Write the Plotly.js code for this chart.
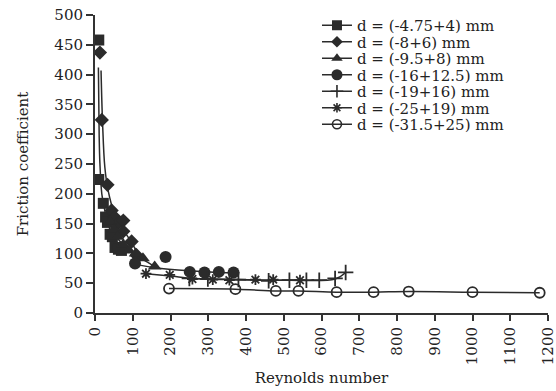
<!DOCTYPE html>
<html>
<head>
<meta charset="utf-8">
<script src="https://cdn.plot.ly/plotly-3.0.1.min.js"></script>
<style>html,body{margin:0;padding:0;background:#fff;}#chart{width:556px;height:391px;}</style>
</head>
<body>
<div id="chart"></div>
<script>
// Series names
var seriesNames = ["d = (-4.75+4) mm","d = (-8+6) mm","d = (-9.5+8) mm","d = (-16+12.5) mm","d = (-19+16) mm","d = (-25+19) mm","d = (-31.5+25) mm"];

// Marker points (Reynolds number, friction coefficient)
var s1X = [10,10,22,28,33,40,46,53,62,70];
var s1Y = [458,224,184,161,152,132,128,110,107,105];
var s2X = [13,18,33,44,52,60,75,75,97,110];
var s2Y = [437,324,215,172,161,150,155,137,120,97];
var s3X = [40,50,60,75,90,108,127,158];
var s3Y = [153,140,128,115,105,100,92,78];
var s4X = [106,187,251,290,328,367];
var s4Y = [83,94,69,68,69,68];
var s5X = [250,299,380,460,515,560,594,636,664];
var s5Y = [58,57,56,54,55,55,55,58,68];
var s6X = [135,198,258,312,356,425,472,543];
var s6Y = [66,64,57,56,55,56,56,55];
var s7X = [196,372,479,539,640,738,831,1000,1178];
var s7Y = [41,40,37,37,35,35,36,35,34];

// Drawn curve points
var c1X = [9,11,13,18,25,35,50,70];
var c1Y = [412,300,251,200,175,148,125,104];
var c2X = [16,20,26,35,50,75,100,112];
var c2Y = [407,320,245,205,170,140,115,100];
var c3X = [40,60,90,127,158];
var c3Y = [150,125,105,90,78];
var c4X = [106,160,250,368];
var c4Y = [82,76,71,67];
var c5X = [250,380,515,636,664];
var c5Y = [58,56,55,57,68];
var c6X = [135,200,260,350,543];
var c6Y = [66,62,58,56,55];
var c7X = [196,372,479,539,640,738,831,1000,1178];
var c7Y = [41,40,37,37,35,35,36,35,34];

var xTicks = [0,100,200,300,400,500,600,700,800,900,1000,1100,1200];
var yTicks = [0,50,100,150,200,250,300,350,400,450,500];

var col = '#2b2b2b';
var symbols = ['square','diamond','triangle-up','circle','cross-thin','asterisk-open','circle-open'];
var sizes = [11,11,12,12,11,9,10];
var mX = [s1X,s2X,s3X,s4X,s5X,s6X,s7X];
var mY = [s1Y,s2Y,s3Y,s4Y,s5Y,s6Y,s7Y];
var cX = [c1X,c2X,c3X,c4X,c5X,c6X,c7X];
var cY = [c1Y,c2Y,c3Y,c4Y,c5Y,c6Y,c7Y];

var traces = [];
for (var i=0;i<7;i++){
  traces.push({x:cX[i], y:cY[i], mode:'lines', type:'scatter', line:{color:col,width:1.5,shape:'spline'}, showlegend:false, hoverinfo:'skip'});
}
for (var i=0;i<7;i++){
  traces.push({x:mX[i], y:mY[i], mode:'markers', type:'scatter',
    marker:{symbol:symbols[i], size:sizes[i], color:col, line:{color:col,width:(i>=4?1.8:0)}}, showlegend:false});
}
var legSizes = [10,9,10,11,9,8,9];
for (var i=0;i<7;i++){
  traces.push({x:[null], y:[null], mode:'lines+markers', type:'scatter', name:seriesNames[i],
    line:{color:col,width:1.5},
    marker:{symbol:symbols[i], size:legSizes[i], color:col, line:{color:col,width:(i>=4?1.6:0)}}});
}

var layout = {
  width:556, height:391,
  margin:{l:95,r:8,t:15,b:78},
  paper_bgcolor:'#fff', plot_bgcolor:'#fff',
  font:{family:'"DejaVu Serif", serif', size:15, color:'#222'},
  showlegend:true,
  legend:{x:0.49, y:1.0, xanchor:'left', yanchor:'top', bgcolor:'rgba(0,0,0,0)', font:{size:15}, tracegroupgap:0},
  xaxis:{range:[0,1200], tickvals:xTicks, ticktext:xTicks.map(String), tickangle:-90,
    ticklabeloverflow:'allow',
    showgrid:false, zeroline:false, showline:true, linecolor:'#333', linewidth:2,
    ticks:'outside', ticklen:6, tickwidth:2, tickcolor:'#333',
    title:{text:'Reynolds number', font:{size:15}, standoff:8}},
  yaxis:{range:[0,500], tickvals:yTicks, ticktext:yTicks.map(String),
    showgrid:false, zeroline:false, showline:true, linecolor:'#333', linewidth:2,
    ticks:'outside', ticklen:7, tickwidth:2, tickcolor:'#333',
    title:{text:'Friction coefficient', font:{size:15}, standoff:22}}
};
Plotly.newPlot('chart', traces, layout, {displayModeBar:false, staticPlot:true}).then(function(gd){
  // tighten legend row spacing to match the reference
  var items = gd.querySelectorAll('.legend .traces');
  var spacing = 16.5;
  var first = null;
  items.forEach(function(el, i){
    var t = el.getAttribute('transform') || '';
    var m = /translate\(([-\d.]+)[ ,]+([-\d.]+)\)/.exec(t);
    var x = m ? parseFloat(m[1]) : 0;
    var y = m ? parseFloat(m[2]) : 0;
    if (first === null) first = y;
    el.setAttribute('transform', 'translate(' + x + ',' + (first + i*spacing) + ')');
  });
  // small vertical adjustment of the legend block
  var leg = gd.querySelector('.legend');
  if (leg) {
    var t = leg.getAttribute('transform') || '';
    var m = /translate\(([-\d.]+)[ ,]+([-\d.]+)\)/.exec(t);
    if (m) leg.setAttribute('transform', 'translate(' + m[1] + ',' + (parseFloat(m[2]) - 6) + ')');
  }
});
</script>
</body>
</html>
